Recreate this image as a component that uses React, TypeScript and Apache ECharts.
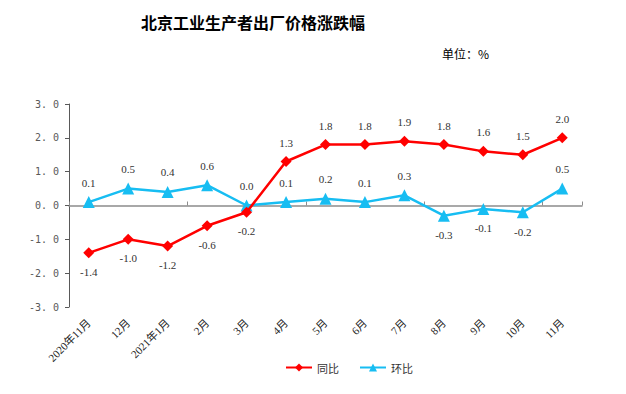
import React, { useEffect, useRef } from "react";
import * as echarts from "echarts";

const categories = ["2020年11月", "12月", "2021年1月", "2月", "3月", "4月", "5月", "6月", "7月", "8月", "9月", "10月", "11月"];
const yoy = [-1.4, -1.0, -1.2, -0.6, -0.2, 1.3, 1.8, 1.8, 1.9, 1.8, 1.6, 1.5, 2.0];
const mom = [0.1, 0.5, 0.4, 0.6, 0.0, 0.1, 0.2, 0.1, 0.3, -0.3, -0.1, -0.2, 0.5];

const RED = "#FF0000";
const CYAN = "#17BDF2";
const SERIF = "'Liberation Serif', 'Times New Roman', 'Noto Sans CJK SC', serif";

export default function App() {
  const ref = useRef<HTMLDivElement>(null);
  useEffect(() => {
    const chart = echarts.init(ref.current!, null, { renderer: "svg" });
    const labelFor = (data: number[], posAbove: (v: number) => boolean) =>
      data.map((v) => ({
        value: v,
        label: { position: posAbove(v) ? "top" : "bottom" },
      }));
    chart.setOption({
      animation: false,
      backgroundColor: "#fff",
      title: [
        {
          text: "北京工业生产者出厂价格涨跌幅",
          left: 248,
          top: 9,
          textAlign: "center",
          textStyle: { fontSize: 16, fontWeight: "bold", color: "#000", fontFamily: "'Noto Sans CJK SC', serif" },
        },
        {
          text: "单位：%",
          left: 437,
          top: 42,
          textStyle: { fontSize: 12, fontWeight: "normal", color: "#000", fontFamily: "'Noto Sans CJK SC', serif" },
        },
      ],
      legend: {
        bottom: 16,
        left: 280,
        itemWidth: 26,
        itemHeight: 10,
        itemGap: 20,
        textStyle: { fontSize: 11, color: "#333", fontFamily: "'Noto Sans CJK SC', serif" },
        data: ["同比", "环比"],
      },
      grid: { left: 69, right: 44, top: 104, bottom: 87 },
      xAxis: [
        {
          type: "category",
          data: categories,
          boundaryGap: true,
          position: "bottom",
          axisLine: { show: false, onZero: false },
          axisTick: { show: false },
          axisLabel: {
            rotate: 45,
            interval: 0,
            margin: 14,
            fontSize: 11,
            color: "#222",
            fontFamily: SERIF,
          },
        },
        {
          type: "category",
          data: categories,
          boundaryGap: true,
          position: "bottom",
          axisLine: { show: true, onZero: true, lineStyle: { color: "#8c8c8c", width: 1.5 } },
          axisTick: { show: true, inside: true, length: 4, lineStyle: { color: "#8c8c8c" } },
          axisLabel: { show: false },
        },
      ],
      yAxis: {
        type: "value",
        min: -3,
        max: 3,
        interval: 1,
        axisLine: { show: true, lineStyle: { color: "#595959", width: 1 } },
        axisTick: { show: true, length: 4, lineStyle: { color: "#595959" } },
        splitLine: { show: false },
        axisLabel: {
          margin: 10,
          fontSize: 10,
          color: "#595959",
          fontFamily: "'DejaVu Sans Mono', monospace",
          formatter: (v: number) => v.toFixed(1).replace(".", ". "),
        },
      },
      series: [
        {
          name: "同比",
          type: "line",
          xAxisIndex: 0,
          data: labelFor(yoy, (v) => v >= 0),
          symbol: "diamond",
          symbolSize: 11,
          lineStyle: { color: RED, width: 2.5 },
          itemStyle: { color: RED },
          label: {
            show: true,
            distance: 8,
            fontSize: 11,
            color: "#333",
            fontFamily: SERIF,
            formatter: (p: any) => Number(p.value).toFixed(1),
          },
          z: 3,
        },
        {
          name: "环比",
          type: "line",
          xAxisIndex: 0,
          data: labelFor(mom, (v) => v >= 0),
          symbol: "triangle",
          symbolSize: 12,
          lineStyle: { color: CYAN, width: 2.5 },
          itemStyle: { color: CYAN },
          label: {
            show: true,
            distance: 8,
            fontSize: 11,
            color: "#333",
            fontFamily: SERIF,
            formatter: (p: any) => Number(p.value).toFixed(1),
          },
          z: 2,
        },
      ],
    });
    return () => chart.dispose();
  }, []);
  return <div ref={ref} style={{ width: 626, height: 394, position: "fixed", left: 0, top: 0 }} />;
}
